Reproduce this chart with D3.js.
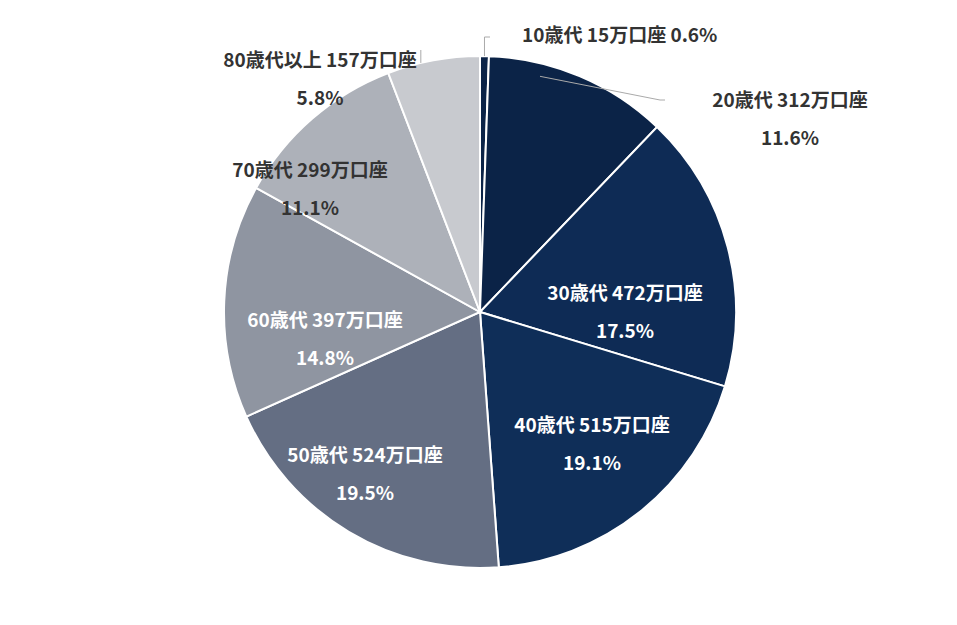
<!DOCTYPE html>
<html><head><meta charset="utf-8">
<script src="https://cdn.jsdelivr.net/npm/d3@7"></script>
<style>body{margin:0;background:#fff}text{font-family:"Noto Sans CJK JP","Noto Sans",sans-serif;font-weight:bold;font-size:19px}</style>
</head><body><svg id="c" width="957" height="625"></svg>
<script>
const ages = ['10歳代','20歳代','30歳代','40歳代','50歳代','60歳代','70歳代','80歳代以上'];
const counts = [15,312,472,515,524,397,299,157];
const pcts = ['0.6%','11.6%','17.5%','19.1%','19.5%','14.8%','11.1%','5.8%'];
const colors = ['#0b2347','#0b2347','#0e2b55','#0f2e58','#646e83','#8f95a1','#adb1b9','#c8cacf'];
// label placement: [dx, dy] from pie centre, text colour, one-line?
const labelPos = [[42,-270],[310,-205],[145,-12],[112,120],[-115,150],[-155,15],[-170,-135],[-160,-245]];
const labelFill = ['#333','#333','#fff','#fff','#fff','#fff','#333','#333'];

const cx = 480, cy = 312, r = 256;
const svg = d3.select('#c');
const g = svg.append('g').attr('transform', `translate(${cx},${cy})`);
const pie = d3.pie().sort(null).value(d => d)(counts);
const arc = d3.arc().innerRadius(0).outerRadius(r);

g.selectAll('path').data(pie).join('path')
  .attr('d', arc).attr('fill', (d, i) => colors[i])
  .attr('stroke', '#fff').attr('stroke-width', 2);

// leader lines
const pt = (a, rr) => [rr * Math.sin(a), -rr * Math.cos(a)];
const mid = d => (d.startAngle + d.endAngle) / 2;
const lead = [
  [pt(mid(pie[0]), r), [pt(mid(pie[0]), r)[0], -275], [10, -275]],
  [pt(mid(pie[1]) - 0.15, r * 0.95), [180, -212], [185, -212]],
  [pt(mid(pie[7]) - 0.05, r * 1.0), [pt(mid(pie[7]) - 0.05, r)[0], -262]]
];
g.selectAll('polyline').data(lead).join('polyline')
  .attr('points', d => d.map(p => p.join(',')).join(' '))
  .attr('fill', 'none').attr('stroke', '#aaa').attr('stroke-width', 1);

const lab = g.selectAll('g.lab').data(pie).join('g').attr('class', 'lab')
  .attr('transform', (d, i) => `translate(${labelPos[i][0]},${labelPos[i][1]})`);
lab.each(function(d, i) {
  const t = d3.select(this);
  if (i === 0) {
    t.append('text').attr('fill', labelFill[i]).attr('text-anchor', 'start')
      .text(`${ages[i]} ${counts[i]}万口座 ${pcts[i]}`);
  } else {
    t.append('text').attr('fill', labelFill[i]).attr('text-anchor', 'middle')
      .text(`${ages[i]} ${counts[i]}万口座`);
    t.append('text').attr('fill', labelFill[i]).attr('text-anchor', 'middle').attr('y', 38)
      .text(pcts[i]);
  }
});
</script></body></html>
